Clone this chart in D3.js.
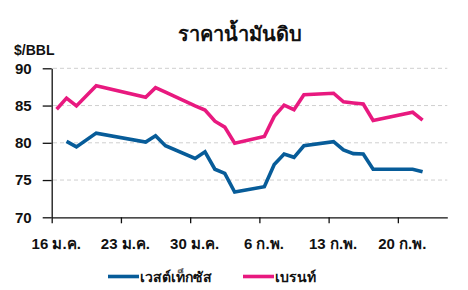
<!DOCTYPE html>
<html>
<head>
<meta charset="utf-8">
<script src="https://cdn.jsdelivr.net/npm/d3@7/dist/d3.min.js"></script>
<style>
  html, body { margin: 0; padding: 0; background: #fff; }
  svg { display: block; font-family: "Liberation Sans", Arial, sans-serif; }
  .title { font-size: 20px; font-weight: 700; fill: #111; }
  .unit { font-size: 14px; font-weight: 700; fill: #111; }
  .axis text { font-size: 15px; font-weight: 700; fill: #111; }
  .xaxis text { font-size: 15px; }
  .legend text { font-size: 14px; font-weight: 700; fill: #111; }
</style>
</head>
<body>
<div id="chart"></div>
<script>
// trading days shown in the chart
const dates = ["2023-01-16", "2023-01-17", "2023-01-18", "2023-01-20", "2023-01-25", "2023-01-26",
  "2023-01-27", "2023-01-30", "2023-01-31", "2023-02-01", "2023-02-02", "2023-02-03",
  "2023-02-06", "2023-02-07", "2023-02-08", "2023-02-09", "2023-02-10", "2023-02-13",
  "2023-02-14", "2023-02-15", "2023-02-16", "2023-02-17", "2023-02-21", "2023-02-22"];

const wti = [null, 80.2, 79.45, 81.3, 80.1, 80.95, 79.6, 77.9, 78.8, 76.45, 75.9, 73.4,
  74.1, 77.1, 78.5, 78.05, 79.6, 80.15, 79.05, 78.55, 78.5, 76.45, 76.45, 76.1];

const brent = [84.5, 86.0, 84.95, 87.65, 86.1, 87.4, 86.8, 84.95, 84.4, 82.9, 82.1, 79.95,
  80.85, 83.55, 85.05, 84.45, 86.45, 86.65, 85.5, 85.35, 85.2, 83.0, 84.1, 83.05];

const xTickDates = ["2023-01-16", "2023-01-23", "2023-01-30", "2023-02-06", "2023-02-13", "2023-02-20"];
const xTickLabels = ["16 ม.ค.", "23 ม.ค.", "30 ม.ค.", "6 ก.พ.", "13 ก.พ.", "20 ก.พ."];
const yTicks = [70, 75, 80, 85, 90];

const seriesNames = ["เวสต์เท็กซัส", "เบรนท์"];
const seriesColors = ["#075c99", "#e8197f"];

const width = 468, height = 290;
const parse = d3.timeParse("%Y-%m-%d");

const svg = d3.select("#chart").append("svg")
  .attr("width", width)
  .attr("height", height);

const x = d3.scaleTime()
  .domain([parse("2023-01-16"), parse("2023-02-25")])
  .range([51.7, 447.3]);

const y = d3.scaleLinear()
  .domain([70, 90])
  .range([217.3, 68.3]);

// dashed gridlines
svg.append("g")
  .selectAll("line")
  .data(yTicks.filter(d => d > 70))
  .enter()
  .append("line")
  .attr("x1", 53)
  .attr("x2", 447.3)
  .attr("y1", d => y(d))
  .attr("y2", d => y(d))
  .attr("stroke", "#cfcfcf")
  .attr("stroke-width", 1)
  .attr("stroke-dasharray", "4,3");

// y axis
const yAxis = svg.append("g")
  .attr("class", "axis")
  .attr("transform", "translate(51.7,0)")
  .call(d3.axisLeft(y).tickValues(yTicks).tickSize(9).tickPadding(11).tickSizeOuter(0));
yAxis.select(".domain").attr("stroke", "#111").attr("stroke-width", 1.3);
yAxis.selectAll(".tick line").attr("stroke", "#111").attr("stroke-width", 1.3);

// x axis
const tickDates = xTickDates.map(parse);
const xAxis = svg.append("g")
  .attr("class", "axis xaxis")
  .attr("transform", "translate(0,217.3)")
  .call(d3.axisBottom(x)
    .tickValues(tickDates)
    .tickSize(6)
    .tickPadding(15)
    .tickSizeOuter(0)
    .tickFormat((d, i) => xTickLabels[i]));
xAxis.select(".domain").attr("stroke", "#111").attr("stroke-width", 1.3);
xAxis.selectAll(".tick line").attr("stroke", "#111").attr("stroke-width", 1.3);
xAxis.selectAll(".tick text").attr("dx", 4);

// lines (points sit mid-day)
const pointDates = dates.map(d => d3.timeHour.offset(parse(d), 12));

const line = d3.line()
  .defined(d => d.v != null)
  .x(d => x(d.t))
  .y(d => y(d.v));

[wti, brent].forEach((vals, i) => {
  svg.append("path")
    .datum(vals.map((v, j) => ({ t: pointDates[j], v: v })))
    .attr("fill", "none")
    .attr("stroke", seriesColors[i])
    .attr("stroke-width", 3.6)
    .attr("stroke-linejoin", "miter")
    .attr("d", line);
});

// titles
svg.append("text")
  .attr("class", "title")
  .attr("x", 240)
  .attr("y", 41)
  .attr("text-anchor", "middle")
  .text("ราคาน้ำมันดิบ");

svg.append("text")
  .attr("class", "unit")
  .attr("x", 14)
  .attr("y", 55)
  .text("$/BBL");

// legend
const legend = svg.append("g").attr("class", "legend");
const legendX = [108, 243];
seriesNames.forEach((name, i) => {
  legend.append("line")
    .attr("x1", legendX[i])
    .attr("x2", legendX[i] + 31)
    .attr("y1", 276.5)
    .attr("y2", 276.5)
    .attr("stroke", seriesColors[i])
    .attr("stroke-width", 3.6);
  legend.append("text")
    .attr("x", legendX[i] + 32)
    .attr("y", 282)
    .text(name);
});
</script>
</body>
</html>
